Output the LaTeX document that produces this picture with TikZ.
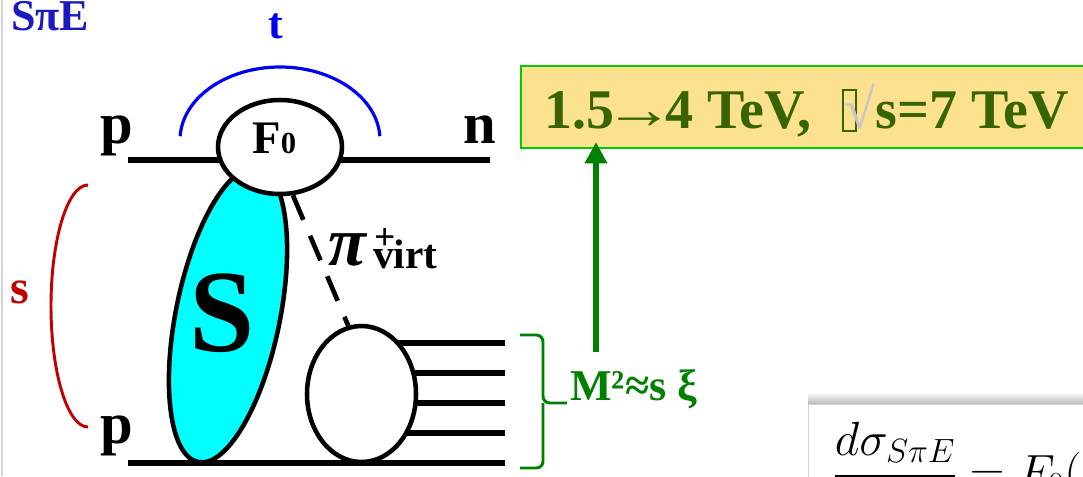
\RequirePackage{fix-cm}
\documentclass[tikz,border=0pt]{standalone}
\usepackage[no-math]{fontspec}
\setmainfont{Liberation Serif}
\usepackage{amsmath}
\usepackage{graphicx}
\usepackage{xcolor}
\usepackage{tikz}
\usetikzlibrary{arrows.meta, calc, shapes.geometric}

\definecolor{titleblue}{RGB}{26,26,190}
\definecolor{tblue}{RGB}{0,0,245}
\definecolor{sred}{RGB}{192,0,0}
\definecolor{mgreen}{RGB}{0,128,0}
\definecolor{boxfill}{RGB}{252,225,142}
\definecolor{boxedge}{RGB}{0,204,0}
\definecolor{boxtext}{RGB}{55,100,0}
\definecolor{scyan}{RGB}{0,255,255}
\definecolor{fboxedge}{RGB}{200,210,228}

% empty glyph box, as the slide prints it
\newcommand{\tofu}{\raisebox{-1.5pt}{\setlength{\fboxsep}{0pt}\setlength{\fboxrule}{1.4pt}\fbox{\rule{0pt}{29.5pt}\rule{8pt}{0pt}}}}
\newcommand{\longto}{\kern-0.17em\scalebox{1.25}[1]{→}\kern-0.17em}

\begin{document}
\begin{tikzpicture}[
    x=0.75pt, y=-0.75pt,
    leg/.style={line width=4.5pt},
    blob/.style={draw, ellipse, line width=3.4pt, fill=#1, inner sep=0pt},
    lbl/.style={font=\fontsize{#1}{#1}\selectfont\bfseries, inner sep=0pt},
    tarc/.style={draw=tblue, line width=2.4pt},
    sarc/.style={draw=sred, line width=2.2pt},
    pion/.style={line width=3.5pt, dash pattern=on 20pt off 13pt},
    garrow/.style={-{Triangle[length=16pt, width=16pt]}, draw=mgreen, fill=mgreen, line width=5.2pt},
    brace/.style={draw=mgreen, line width=2.2pt, rounded corners=5pt},
    tevbox/.style={draw=boxedge, fill=boxfill, line width=1.5pt},
]
\useasboundingbox (0,0) rectangle (1083,476);
\fill[white] (0,0) rectangle (1083,476);
\clip (0,0) rectangle (1083,476);
\draw[gray!35, line width=1.5pt] (2,0) -- (2,476);

\node[lbl=33, text=titleblue, anchor=base west] (title) at (11,30) {SπE};

% incoming and outgoing legs
\coordinate (pa) at (128,160);
\coordinate (nb) at (490,160);
\coordinate (pc) at (128,463);
\coordinate (xd) at (505,463);
\draw[leg] (pa) -- (nb);

% jets out of the lower blob
\coordinate (bc) at (361.5,394);
\foreach \y [count=\i] in {343,373,403,433}
  \coordinate (j\i) at (505,\y);
\foreach \i in {1,...,4}
  \draw[leg] (bc |- j\i) -- (j\i);

\node[blob=scyan, rotate=78.5, minimum width=225pt, minimum height=78pt] (S) at (228,315) {};
\node[blob=white, minimum width=93pt, minimum height=70.5pt] (F0) at (280,147) {};
\node[blob=white, minimum width=81.75pt, minimum height=102pt] (X) at (bc) {};
\draw[leg] (pc) -- (xd);
\draw[pion] (F0.-75) -- (X.101);

\node[lbl=44, anchor=base] (p1) at (117,143) {p};
\node[lbl=44, anchor=base] (n1) at (480,143) {n};
\node[lbl=44, anchor=base] (p2) at (117,443) {p};
\node[lbl=35, anchor=base west] (f0lbl) at ($(F0.center)+(-28,6)$) {F\fontsize{23}{23}\selectfont 0};
\node[lbl=88, anchor=base] (slbl) at (222,351) {S};

% t and s brackets
\coordinate (tc) at (280,140);
\draw[tarc] ([shift={(-177:100 and 73)}]tc) arc[start angle=-177, end angle=-3, x radius=100, y radius=73];
\node[lbl=33, text=tblue, anchor=base] (tlbl) at (275.5,38) {t};
\coordinate (sc) at (88,306);
\draw[sarc] ([shift={(-90:37 and 121)}]sc) arc[start angle=-90, end angle=-270, x radius=37, y radius=121];
\node[lbl=36, text=sred, anchor=base] (slbl2) at (20,303) {s};

\node[lbl=52, anchor=base west] (pi) at (328,265) {\itshape π};
\node[lbl=28, anchor=base west] (piplus) at (374,249) {+};
\node[lbl=31, anchor=base west] (pivirt) at (373,268) {virt};

% energy box
\node[tevbox, anchor=north west, minimum width=450pt, minimum height=61.5pt] (box) at (520,65) {};
\node[lbl=42, text=boxtext, anchor=base west] (boxtxt) at (544,128)
  {1.5\longto4 TeV,\hspace{0.55em}\tofu\kern-9pt{\color{gray!45}√}s=7 TeV};
\coordinate (mtop) at (596,352);
\draw[garrow, shorten >=-5.25pt] (mtop) -- (mtop |- box.south);

% mass brace
\coordinate (bt) at (520,335);
\coordinate (bb) at (520,468);
\coordinate (btip) at (567,403);
\draw[brace] (bt) -| ($(btip)+(-24,0)$) -- (btip);
\draw[brace] (bb) -| ($(btip)+(-24,0)$);
\node[lbl=33, text=mgreen, anchor=base west] (mlbl) at (570,400) {M²≈s ξ};

% formula panel
\shade[top color=white, bottom color=gray!55] (808,392) rectangle (1083,404);
\node[anchor=north west, draw=fboxedge, fill=white, line width=0.6pt, minimum width=300pt, minimum height=80pt] (fbox) at (808,404) {};
\node[anchor=base west, inner sep=0pt, font=\fontsize{36}{36}\selectfont] (fml) at (833,488)
  {$\dfrac{d\sigma_{S\pi E}}{\hphantom{d\sigma_{S\pi E}}} = F_0(\xi$};
\end{tikzpicture}
\end{document}
